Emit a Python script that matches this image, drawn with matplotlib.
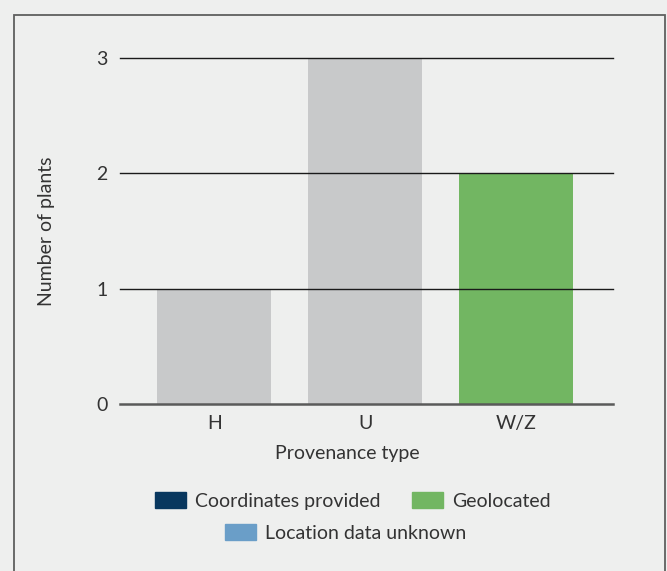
import matplotlib
matplotlib.use("Agg")
import matplotlib.pyplot as plt
from matplotlib.patches import Rectangle, Patch
import numpy as np

categories = ["H", "U", "W/Z"]
other = [1, 3, 0]          # grey bars (not in legend)
coordinates = [0, 0, 0]
geolocated = [0, 0, 2]
unknown = [0, 0, 0]
yticks = [0, 1, 2, 3]

BG = "#eeefee"
TXT = "#333333"
FS = 14
plt.rcParams['font.family'] = ['Lato', 'DejaVu Sans']

W, H = 667, 571
fig = plt.figure(figsize=(W/100, H/100), dpi=100, facecolor=BG)
ax = fig.add_axes([120/W, 1-404/H, (613-120)/W, (404-58)/H])
ax.set_facecolor(BG)

x = np.arange(len(categories))
bw = 0.755
ax.bar(x, other, bw, color="#c8c9ca", zorder=1)
b = np.array(other, float)
for vals, col in [(coordinates, "#08375e"), (geolocated, "#72b662"), (unknown, "#6a9ec8")]:
    ax.bar(x, vals, bw, bottom=b, color=col, zorder=1)
    b += np.array(vals, float)

ax.set_xlim(-0.625, 2.64)
ax.set_ylim(0, 3)
ax.set_yticks(yticks)
ax.set_yticklabels([str(t) for t in yticks])
for t in yticks[1:]:
    ax.axhline(t, color="#1a1a1a", lw=1.0, zorder=2, clip_on=False)
ax.axhline(0, color="#5a5a5a", lw=1.8, zorder=2, clip_on=False)
for s in ax.spines.values():
    s.set_visible(False)
ax.set_xticks(x)
ax.set_xticklabels(categories)
ax.tick_params(axis='both', length=0, labelsize=FS, colors=TXT)
ax.tick_params(axis='y', pad=9)
ax.tick_params(axis='x', pad=8)

fig.text(47/W, 1-231/H, "Number of plants", rotation=90, ha="center", va="center",
         fontsize=FS, color=TXT)
fig.text(347/W, 1-454/H, "Provenance type", ha="center", va="center",
         fontsize=FS, color=TXT)

h1 = [Patch(color="#08375e", label="Coordinates provided"),
      Patch(color="#72b662", label="Geolocated")]
h2 = [Patch(color="#6a9ec8", label="Location data unknown")]
kw = dict(frameon=False, handlelength=1.6, handleheight=0.87,
          handletextpad=0.46, columnspacing=1.6, labelcolor=TXT, borderpad=0,
          prop={'family': ['Lato', 'DejaVu Sans'], 'size': FS})
l1 = fig.legend(handles=h1, ncol=2, loc="center", bbox_to_anchor=(353/W, 1-501/H), **kw)
l2 = fig.legend(handles=h2, ncol=1, loc="center", bbox_to_anchor=(346/W, 1-533/H), **kw)

fig.patches.append(Rectangle((14/W, -0.05), (665-14)/W, 1+0.05-15/H, transform=fig.transFigure,
                             fill=False, edgecolor="#5f5f5f", lw=1.3))

fig.savefig("out.png", dpi=100, facecolor=BG)
